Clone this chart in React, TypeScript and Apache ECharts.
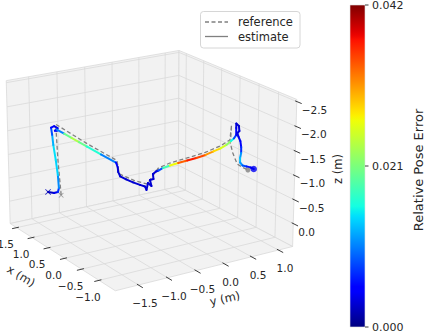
import React, { useEffect, useRef } from "react";
import * as echarts from "echarts";

// ---------- axis limits and ticks ----------
const X_LIM = [-1.453, 1.712];
const Y_LIM = [-1.89, 1.266];
const Z_LIM = [0.484, -2.542]; // bottom -> top (inverted z axis)

const X_TICKS = [-1.0, -0.5, 0.0, 0.5, 1.0, 1.5];
const X_TICK_LABELS = ["−1.0", "−0.5", "0.0", "0.5", "1.0", "1.5"];
const Y_TICKS = [-1.5, -1.0, -0.5, 0.0, 0.5, 1.0];
const Y_TICK_LABELS = ["−1.5", "−1.0", "−0.5", "0.0", "0.5", "1.0"];
const Z_TICKS = [0.0, -0.5, -1.0, -1.5, -2.0, -2.5];
const Z_TICK_LABELS = ["0.0", "−0.5", "−1.0", "−1.5", "−2.0", "−2.5"];

// ---------- estimate trajectory (m) and its relative pose error ----------
const EST_X = [1.570, 1.516, 1.448, 1.450, 1.515, 1.574, 1.541, 1.578, 1.588, 1.585, 1.512, 1.472, 1.489, 1.456, 1.220, 0.983, 0.745, 0.506, 0.070, -0.361, -0.356, -0.360, -0.358, -0.425, -0.555, -0.648, -0.743, -0.756, -0.767, -0.832, -0.782, -0.810, -0.805, -0.884, -0.941, -0.937, -0.900, -0.871, -0.849, -0.827, -0.786, -0.716, -0.657, -0.570, -0.454, -0.419, -0.396, -0.385, -0.377, -0.439, -0.452, -0.439, -0.471, -0.495, -0.494, -0.504, -0.504, -0.530, -0.556, -0.590, -0.662, -0.708];
const EST_Y = [-1.279, -1.201, -1.170, -1.150, -1.128, -1.127, -1.185, -1.181, -1.193, -1.139, -1.120, -1.155, -1.181, -1.165, -1.170, -1.176, -1.183, -1.189, -1.201, -1.201, -1.169, -1.163, -1.127, -1.066, -1.027, -0.964, -0.938, -0.920, -0.901, -0.882, -0.876, -0.833, -0.839, -0.837, -0.830, -0.750, -0.604, -0.443, -0.268, -0.091, 0.101, 0.293, 0.461, 0.628, 0.794, 0.871, 0.930, 0.937, 0.942, 0.948, 0.949, 0.921, 0.919, 0.940, 0.958, 0.952, 0.934, 0.917, 0.946, 0.996, 1.023, 1.048];
const EST_Z = [-0.10, -0.08, -0.12, -0.20, -0.45, -0.75, -1.10, -1.30, -1.45, -1.47, -1.45, -1.42, -1.42, -1.45, -1.45, -1.45, -1.45, -1.45, -1.45, -1.45, -1.35, -1.25, -1.15, -1.10, -1.08, -1.05, -1.05, -0.98, -1.12, -1.08, -1.18, -1.20, -1.30, -1.38, -1.42, -1.45, -1.45, -1.45, -1.45, -1.45, -1.45, -1.45, -1.45, -1.45, -1.45, -1.47, -1.52, -1.66, -1.75, -1.72, -1.62, -1.58, -1.52, -1.43, -1.30, -1.18, -1.08, -1.00, -0.94, -0.92, -0.92, -0.90];
const EST_ERR = [0.002, 0.003, 0.005, 0.009, 0.013, 0.015, 0.014, 0.011, 0.006, 0.004, 0.004, 0.004, 0.004, 0.006, 0.015, 0.025, 0.022, 0.018, 0.015, 0.006, 0.003, 0.003, 0.003, 0.003, 0.003, 0.003, 0.003, 0.003, 0.003, 0.003, 0.003, 0.003, 0.003, 0.003, 0.004, 0.013, 0.023, 0.031, 0.037, 0.037, 0.033, 0.030, 0.027, 0.024, 0.020, 0.011, 0.005, 0.004, 0.003, 0.003, 0.003, 0.003, 0.004, 0.004, 0.005, 0.009, 0.014, 0.013, 0.010, 0.007, 0.005, 0.003];

// ---------- reference trajectory (m) ----------
const REF_X = [1.334, 1.460, 1.596, 0.529, -0.387, -0.350, -0.552, -0.759, -0.816, -0.902, -0.807, -0.754, -0.689, -0.560, -0.407, -0.395, -0.417, -0.472, -0.497, -0.527, -0.615, -0.698];
const REF_Y = [-1.177, -1.153, -1.104, -1.174, -1.200, -1.139, -0.990, -0.914, -0.863, -0.806, -0.545, -0.208, 0.162, 0.522, 0.806, 0.841, 0.809, 0.819, 0.839, 0.865, 0.908, 0.946];
const REF_Z = [-0.10, -0.80, -1.50, -1.50, -1.50, -1.20, -1.10, -1.10, -1.25, -1.45, -1.45, -1.45, -1.45, -1.45, -1.45, -1.75, -1.38, -1.20, -1.10, -0.98, -0.93, -0.90];

// ---------- colour bar ----------
const ERR_MIN = 0.0;
const ERR_MAX = 0.042;
const CBAR_TICKS = [0.0, 0.021, 0.042];
const CBAR_TICK_LABELS = ["0.000", "0.021", "0.042"];

// ---------- layout / view ----------
const W = 424;
const H = 333;
const DEG = Math.PI / 180;
const ELEV = 19.5 * DEG;
const AZIM = 32.5 * DEG;
const DIST = 10;
const BOX = [1.1428, 1.1428, 0.857];
const CX = 149.1, CY = 163.4, SX = 181.5, SY = 179.4;
const FONT = "'DejaVu Sans', 'Liberation Sans', sans-serif";
const TEXT_COLOR = "#262626";
const PANE_FILL = "#f2f2f2";
const GRID_COLOR = "#d9d9d9";
const REF_COLOR = "#808080";

function project(x: number, y: number, z: number): [number, number] {
  const uc = ((x - X_LIM[0]) / (X_LIM[1] - X_LIM[0]) - 0.5) * BOX[0];
  const vc = ((y - Y_LIM[0]) / (Y_LIM[1] - Y_LIM[0]) - 0.5) * BOX[1];
  const wc = ((z - Z_LIM[0]) / (Z_LIM[1] - Z_LIM[0]) - 0.5) * BOX[2];
  const ca = Math.cos(AZIM), sa = Math.sin(AZIM);
  const ce = Math.cos(ELEV), se = Math.sin(ELEV);
  const sx = -sa * uc + ca * vc;
  const h = ca * uc + sa * vc;
  const sy = ce * wc + se * h;
  const depth = ce * h - se * wc;
  const p = DIST / (DIST + depth);
  return [CX + SX * p * sx, CY - SY * p * sy];
}

function interp(t: number, pts: number[][]): number {
  for (let i = 1; i < pts.length; i++) {
    if (t <= pts[i][0]) {
      const [t0, v0] = pts[i - 1];
      const [t1, v1] = pts[i];
      return v0 + ((t - t0) / (t1 - t0)) * (v1 - v0);
    }
  }
  return pts[pts.length - 1][1];
}
function jet(t: number): string {
  const r = interp(t, [[0, 0], [0.35, 0], [0.66, 1], [0.89, 1], [1, 0.5]]);
  const g = interp(t, [[0, 0], [0.125, 0], [0.375, 1], [0.64, 1], [0.91, 0], [1, 0]]);
  const b = interp(t, [[0, 0.5], [0.11, 1], [0.34, 1], [0.65, 0], [1, 0]]);
  const c = (v: number) => Math.round(Math.max(0, Math.min(1, v)) * 255);
  return `rgb(${c(r)},${c(g)},${c(b)})`;
}
const JET_N = 64;
const JET_COLORS = Array.from({ length: JET_N + 1 }, (_, i) => jet(i / JET_N));

function buildOption() {
  const [x0, x1] = X_LIM;
  const [y0, y1] = Y_LIM;
  const [zb, zt] = Z_LIM;

  const boxRender = (_params: any, api: any) => {
    const P = (x: number, y: number, z: number) => api.coord(project(x, y, z));
    const children: any[] = [];
    const pane = (pts: number[][]) => ({
      type: "polygon",
      shape: { points: pts.map((p) => P(p[0], p[1], p[2])) },
      style: { fill: PANE_FILL, stroke: GRID_COLOR, lineWidth: 0.8 },
    });
    children.push(pane([[x1, y0, zb], [x1, y0, zt], [x1, y1, zt], [x1, y1, zb]]));
    children.push(pane([[x0, y1, zb], [x0, y1, zt], [x1, y1, zt], [x1, y1, zb]]));
    children.push(pane([[x0, y0, zb], [x1, y0, zb], [x1, y1, zb], [x0, y1, zb]]));
    const seg = (a: number[], b: number[], color: string, w: number) => {
      const pa = P(a[0], a[1], a[2]);
      const pb = P(b[0], b[1], b[2]);
      return { type: "line", shape: { x1: pa[0], y1: pa[1], x2: pb[0], y2: pb[1] }, style: { stroke: color, lineWidth: w } };
    };
    // grid lines
    Y_TICKS.forEach((t) => {
      children.push(seg([x1, t, zb], [x1, t, zt], GRID_COLOR, 0.8));
      children.push(seg([x0, t, zb], [x1, t, zb], GRID_COLOR, 0.8));
    });
    X_TICKS.forEach((t) => {
      children.push(seg([t, y1, zb], [t, y1, zt], GRID_COLOR, 0.8));
      children.push(seg([t, y0, zb], [t, y1, zb], GRID_COLOR, 0.8));
    });
    Z_TICKS.forEach((t) => {
      children.push(seg([x1, y0, t], [x1, y1, t], GRID_COLOR, 0.8));
      children.push(seg([x0, y1, t], [x1, y1, t], GRID_COLOR, 0.8));
    });
    // tick marks
    X_TICKS.forEach((t) => children.push(seg([t, y0 + 0.04, zb], [t, y0 - 0.08, zb], TEXT_COLOR, 0.9)));
    Y_TICKS.forEach((t) => children.push(seg([x0 + 0.04, t, zb], [x0 - 0.12, t, zb], TEXT_COLOR, 0.9)));
    Z_TICKS.forEach((t) => children.push(seg([x0 + 0.04, y1, t], [x0 - 0.12, y1, t], TEXT_COLOR, 0.9)));
    const txt = (text: string, x: number, y: number, size: number, align: string, rotation = 0) => ({
      type: "text",
      x,
      y,
      rotation,
      style: { text, fill: TEXT_COLOR, font: `${size}px ${FONT}`, align, verticalAlign: "middle", textAlign: align, textVerticalAlign: "middle" },
    });
    X_TICKS.forEach((t, i) => {
      const p = P(t, y0, zb);
      children.push(txt(X_TICK_LABELS[i], p[0] - 11, p[1] + 16.5, 10.5, "center"));
    });
    Y_TICKS.forEach((t, i) => {
      const p = P(x0, t, zb);
      children.push(txt(Y_TICK_LABELS[i], p[0] + 6.5, p[1] + 18, 10.5, "center"));
    });
    Z_TICKS.forEach((t, i) => {
      const p = P(x0, y1, t);
      children.push(txt(Z_TICK_LABELS[i], p[0] + 5, p[1] + 8, 10.5, "left"));
    });
    // axis titles
    const xa = P(0.35, y0, zb);
    children.push(txt("x (m)", xa[0] - 32, xa[1] + 25, 11.5, "center", -31 * DEG));
    const ya = P(x0, -0.2, zb);
    children.push(txt("y (m)", ya[0] + 12, ya[1] + 32, 11.5, "center", 12.7 * DEG));
    const za = P(x0, y1, -1.05);
    children.push(txt("z (m)", za[0] + 43, za[1] - 4, 11.5, "center", 90 * DEG));
    return { type: "group", children };
  };

  const refData = REF_X.map((x, i) => project(x, REF_Y[i], REF_Z[i]));
  const estSegments = EST_X.slice(0, -1).map((x, i) => {
    const a = project(x, EST_Y[i], EST_Z[i]);
    const b = project(EST_X[i + 1], EST_Y[i + 1], EST_Z[i + 1]);
    return [a[0], a[1], b[0], b[1], (EST_ERR[i] + EST_ERR[i + 1]) / 2];
  });
  const nE = EST_X.length - 1;
  const nR = REF_X.length - 1;
  const CROSS = "path://M0,1L1,0L5,4L9,0L10,1L6,5L10,9L9,10L5,6L1,10L0,9L4,5Z";
  const errColor = (e: number) => jet((e - ERR_MIN) / (ERR_MAX - ERR_MIN));

  // colour bar geometry
  const cbLeft = 350, cbTop = 5, cbW = 15, cbH = 322;
  const cbY = (v: number) => cbTop + (1 - (v - ERR_MIN) / (ERR_MAX - ERR_MIN)) * cbH;
  const graphic: any[] = [
    {
      type: "rect",
      shape: { x: cbLeft, y: cbTop, width: cbW, height: cbH },
      style: {
        fill: {
          type: "linear", x: 0, y: 1, x2: 0, y2: 0,
          colorStops: JET_COLORS.map((c, i) => ({ offset: i / JET_N, color: c })),
        },
        stroke: "#e0e0e0",
        lineWidth: 0.6,
      },
      silent: true,
    },
  ];
  CBAR_TICKS.forEach((v, i) => {
    const y = cbY(v);
    graphic.push({ type: "line", shape: { x1: cbLeft + cbW, y1: y, x2: cbLeft + cbW + 3.5, y2: y }, style: { stroke: TEXT_COLOR, lineWidth: 0.9 }, silent: true });
    graphic.push({ type: "text", x: cbLeft + cbW + 7, y, style: { text: CBAR_TICK_LABELS[i], fill: TEXT_COLOR, font: `11px ${FONT}`, align: "left", verticalAlign: "middle", textAlign: "left", textVerticalAlign: "middle" }, silent: true });
  });
  graphic.push({ type: "text", x: 418, y: 170, rotation: Math.PI / 2, style: { text: "Relative Pose Error", fill: TEXT_COLOR, font: `13px ${FONT}`, align: "center", verticalAlign: "middle", textAlign: "center", textVerticalAlign: "middle" }, silent: true });
  // legend
  graphic.push({ type: "rect", shape: { x: 200.5, y: 11.5, width: 99.5, height: 36.5, r: 3 }, style: { fill: "rgba(255,255,255,0.8)", stroke: "#cccccc", lineWidth: 0.8 }, silent: true });
  graphic.push({ type: "line", shape: { x1: 205, y1: 22, x2: 228, y2: 22 }, style: { stroke: REF_COLOR, lineWidth: 1.3, lineDash: [4, 2.5] }, silent: true });
  graphic.push({ type: "line", shape: { x1: 205, y1: 36.5, x2: 228, y2: 36.5 }, style: { stroke: REF_COLOR, lineWidth: 1.3 }, silent: true });
  graphic.push({ type: "text", x: 238, y: 22, style: { text: "reference", fill: TEXT_COLOR, font: `11.5px ${FONT}`, align: "left", verticalAlign: "middle", textAlign: "left", textVerticalAlign: "middle" }, silent: true });
  graphic.push({ type: "text", x: 238, y: 36.5, style: { text: "estimate", fill: TEXT_COLOR, font: `11.5px ${FONT}`, align: "left", verticalAlign: "middle", textAlign: "left", textVerticalAlign: "middle" }, silent: true });

  return {
    animation: false,
    grid: { left: 0, right: 0, top: 0, bottom: 0, containLabel: false },
    xAxis: { type: "value", min: 0, max: W, show: false },
    yAxis: { type: "value", min: 0, max: H, inverse: true, show: false },
    visualMap: {
      type: "continuous",
      show: false,
      min: ERR_MIN,
      max: ERR_MAX,
      dimension: 4,
      seriesIndex: 2,
      inRange: { color: JET_COLORS },
    },
    series: [
      { type: "custom", name: "axes", data: [[0, 0]], renderItem: boxRender, silent: true, clip: false, z: 1 },
      {
        type: "line",
        name: "reference",
        data: refData,
        showSymbol: false,
        symbol: "none",
        lineStyle: { color: REF_COLOR, width: 1.3, type: [4, 2.5] },
        silent: true,
        z: 2,
      },
      {
        type: "custom",
        name: "estimate",
        data: estSegments,
        dimensions: ["x1", "y1", "x2", "y2", "err"],
        encode: { x: [0, 2], y: [1, 3] },
        renderItem: (_p: any, api: any) => {
          const a = api.coord([api.value(0), api.value(1)]);
          const b = api.coord([api.value(2), api.value(3)]);
          return {
            type: "line",
            shape: { x1: a[0], y1: a[1], x2: b[0], y2: b[1] },
            style: { stroke: api.visual("color"), lineWidth: 2, lineCap: "round" },
          };
        },
        silent: true,
        clip: false,
        z: 3,
      },
      {
        type: "scatter",
        name: "markers",
        silent: true,
        z: 4,
        data: [
          { value: refData[0], symbol: CROSS, symbolSize: 5, itemStyle: { color: REF_COLOR } },
          { value: project(EST_X[0], EST_Y[0], EST_Z[0]), symbol: CROSS, symbolSize: 6, itemStyle: { color: errColor(EST_ERR[0]) } },
          { value: refData[nR], symbol: "circle", symbolSize: 5, itemStyle: { color: REF_COLOR } },
          { value: project(EST_X[nE], EST_Y[nE], EST_Z[nE]), symbol: "circle", symbolSize: 6.5, itemStyle: { color: jet(0.1) } },
        ],
      },
    ],
    graphic,
  };
}

export default function App() {
  const ref = useRef<HTMLDivElement>(null);
  useEffect(() => {
    if (!ref.current) return;
    const chart = echarts.init(ref.current, undefined, { renderer: "svg" });
    chart.setOption(buildOption() as any);
    return () => chart.dispose();
  }, []);
  return <div ref={ref} style={{ position: "fixed", left: 0, top: 0, width: W, height: H, background: "#ffffff" }} />;
}
